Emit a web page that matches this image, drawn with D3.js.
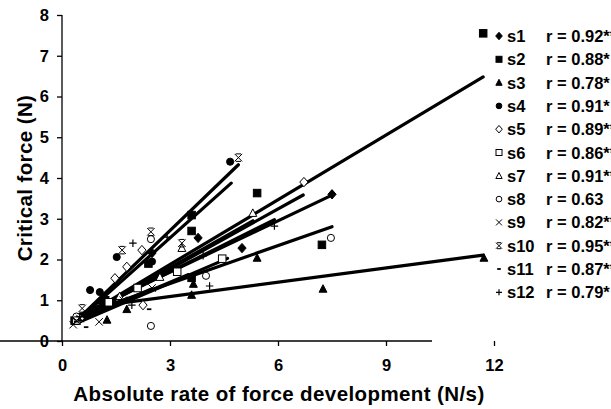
<!DOCTYPE html>
<html><head><meta charset="utf-8">
<script src="https://d3js.org/d3.v7.min.js"></script>
<style>
body{margin:0;background:#fff;}
text{font-family:"Liberation Sans",Arial,sans-serif;font-weight:bold;fill:#000;}
</style></head>
<body><svg id="c" width="611" height="409"></svg>
<script>
// ---- data ----
const seriesNames = ["s1","s2","s3","s4","s5","s6","s7","s8","s9","s10","s11","s12"];
const rLabels = ["r = 0.92**","r = 0.88*","r = 0.78*","r = 0.91*","r = 0.89**","r = 0.86**","r = 0.91**","r = 0.63","r = 0.82**","r = 0.95**","r = 0.87**","r = 0.79*"];
const markers = ["diamond","square","triangle","circle","diamondO","squareO","triangleO","circleO","times","asterisk","dash","plus"];
// points per series [x (N/s), y (N)]
const s1 = [[0.45,0.55],[1.1,0.95],[2.5,2.16],[3.78,2.53],[5.0,2.28],[7.5,3.6]];
const s2 = [[0.35,0.5],[1.2,1.0],[2.4,1.9],[3.6,1.55],[3.6,2.7],[3.6,3.09],[5.42,3.63],[7.22,2.36],[11.7,7.55]];
const s3 = [[1.25,0.52],[1.8,0.78],[3.6,1.13],[3.65,1.4],[5.42,2.04],[7.25,1.28],[11.72,2.04]];
const s4 = [[0.5,0.6],[0.78,1.25],[1.05,1.2],[1.52,2.06],[2.5,1.95],[4.67,4.4]];
const s5 = [[0.5,0.55],[1.47,1.54],[1.8,1.82],[2.22,2.23],[2.25,0.88],[6.72,3.9]];
const s6 = [[0.4,0.5],[1.3,0.95],[2.1,1.3],[3.2,1.7],[4.45,2.02]];
const s7 = [[0.45,0.55],[1.6,1.1],[2.72,1.57],[3.33,2.28],[5.3,3.14]];
const s8 = [[0.4,0.6],[2.47,0.37],[2.47,2.5],[4.0,1.6],[7.47,2.53]];
const s9 = [[0.31,0.4],[0.5,0.55],[1.03,0.47],[1.7,1.0],[2.5,1.3]];
const s10 = [[0.4,0.5],[0.56,0.8],[1.67,2.23],[2.47,2.68],[3.33,2.4],[4.9,4.5]];
const s11 = [[0.5,0.5],[0.67,0.34],[1.5,0.95],[2.42,0.78],[3.5,1.6]];
const s12 = [[0.5,0.6],[1.94,0.88],[1.97,2.4],[2.92,2.55],[3.92,2.09],[4.1,1.35],[5.9,2.82]];
const seriesPoints = [s1,s2,s3,s4,s5,s6,s7,s8,s9,s10,s11,s12];
// fitted regression lines
const fitIntercept = [0.43,0.29,0.74,0.16,0.30,0.28,0.30,0.48,0.33,0.16,0.33,0.38];
const fitSlope     = [0.42,0.529,0.117,0.79,0.49,0.38,0.50,0.31,0.38,0.85,0.37,0.44];
const fitXmin      = [0.45,0.3,1.25,0.5,0.5,0.4,0.45,0.4,0.3,0.4,0.5,0.5];
const fitXmax      = [7.5,11.7,11.7,4.7,6.7,4.6,5.3,7.5,2.5,4.9,3.5,5.9];
const xTicks = [0,3,6,9,12];
const yTicks = [0,1,2,3,4,5,6,7,8];

// ---- drawing ----
const svg = d3.select("#c");
const x = d3.scaleLinear().domain([0,12]).range([62,494]);
const y = d3.scaleLinear().domain([0,8]).range([341,15]);

const xAxis = svg.append("g").attr("transform","translate(0,341)")
  .call(d3.axisBottom(x).tickValues(xTicks).tickSize(5).tickSizeOuter(0).tickPadding(13));
const yAxis = svg.append("g").attr("transform","translate(62,0)")
  .call(d3.axisLeft(y).tickValues(yTicks).tickSize(5).tickSizeOuter(0).tickPadding(8));
[xAxis,yAxis].forEach(g=>{
  g.select(".domain").attr("stroke","#000").attr("stroke-width",1.3);
  g.selectAll(".tick line").attr("stroke","#000").attr("stroke-width",1.3);
  g.selectAll("text").style("font-size","16.5px").style("font-family","Liberation Sans, Arial").style("font-weight","bold");
});
yAxis.select(".domain").attr("d","M0,15V341");
xAxis.select(".domain").attr("d","M0,0H432");

// axis titles
svg.append("text").attr("x",279).attr("y",401).attr("text-anchor","middle")
  .style("font-size","20.5px").attr("letter-spacing","0.4px").text("Absolute rate of force development (N/s)");
svg.append("text").attr("transform","translate(32,178) rotate(-90)").attr("text-anchor","middle")
  .style("font-size","20.5px").attr("letter-spacing","0.4px").text("Critical force (N)");

// regression lines
const plot = svg.append("g");
seriesNames.forEach((n,i)=>{
  const x0 = fitXmin[i], x1 = fitXmax[i];
  plot.append("line")
    .attr("x1",x(x0)).attr("y1",y(fitIntercept[i]+fitSlope[i]*x0))
    .attr("x2",x(x1)).attr("y2",y(fitIntercept[i]+fitSlope[i]*x1))
    .attr("stroke","#000").attr("stroke-width",3.2).attr("stroke-linecap","round");
});

function drawMarker(g, type, cx, cy, s){
  const h = s/2;
  switch(type){
    case "diamond": case "diamondO":
      g.append("path").attr("d",`M${cx},${cy-h*1.25}L${cx+h*1.1},${cy}L${cx},${cy+h*1.25}L${cx-h*1.1},${cy}Z`)
        .attr("fill",type==="diamond"?"#000":"#fff").attr("stroke","#000").attr("stroke-width",1); break;
    case "square": case "squareO":
      g.append("rect").attr("x",cx-h).attr("y",cy-h).attr("width",s).attr("height",s)
        .attr("fill",type==="square"?"#000":"#fff").attr("stroke","#000").attr("stroke-width",1); break;
    case "triangle": case "triangleO":
      g.append("path").attr("d",`M${cx},${cy-h*1.1}L${cx+h*1.05},${cy+h*0.9}L${cx-h*1.05},${cy+h*0.9}Z`)
        .attr("fill",type==="triangle"?"#000":"#fff").attr("stroke","#000").attr("stroke-width",1); break;
    case "circle": case "circleO":
      g.append("circle").attr("cx",cx).attr("cy",cy).attr("r",h*0.95)
        .attr("fill",type==="circle"?"#000":"#fff").attr("stroke","#000").attr("stroke-width",1); break;
    case "times":
      g.append("path").attr("d",`M${cx-h},${cy-h}L${cx+h},${cy+h}M${cx-h},${cy+h}L${cx+h},${cy-h}`)
        .attr("stroke","#000").attr("stroke-width",1).attr("fill","none"); break;
    case "asterisk":
      g.append("path").attr("d",`M${cx-h},${cy-h}L${cx+h},${cy+h}M${cx-h},${cy+h}L${cx+h},${cy-h}M${cx-h*0.7},${cy-h}H${cx+h*0.7}M${cx-h*0.7},${cy+h}H${cx+h*0.7}`)
        .attr("stroke","#000").attr("stroke-width",1).attr("fill","none"); break;
    case "dash":
      g.append("path").attr("d",`M${cx-h*0.6},${cy}H${cx+h*0.6}`)
        .attr("stroke","#000").attr("stroke-width",1.8).attr("fill","none"); break;
    case "plus":
      g.append("path").attr("d",`M${cx-h},${cy}H${cx+h}M${cx},${cy-h}V${cy+h}`)
        .attr("stroke","#000").attr("stroke-width",1.2).attr("fill","none"); break;
  }
}

// points
seriesPoints.forEach((pts,i)=>{
  const g = plot.append("g");
  pts.forEach(p=>drawMarker(g, markers[i], x(p[0]), y(p[1]), 7.5));
});

// legend
const leg = svg.append("g");
seriesNames.forEach((n,i)=>{
  const yy = 36 + i*23.3;
  drawMarker(leg, markers[i], 499, yy, 6);
  leg.append("text").attr("x",507).attr("y",yy+6).style("font-size","16.5px").text(n);
  leg.append("text").attr("x",546).attr("y",yy+6).style("font-size","16.5px").text(rLabels[i]);
});
</script></body></html>
